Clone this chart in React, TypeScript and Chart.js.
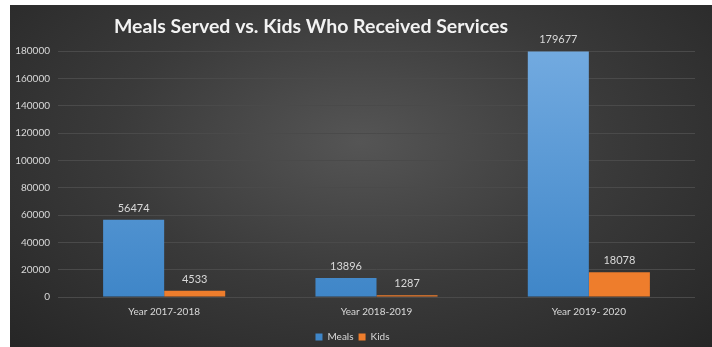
import React, { useEffect, useRef } from "react";
import { Chart, registerables } from "chart.js";

Chart.register(...registerables);

const categories = ["Year 2017-2018", "Year 2018-2019", "Year 2019- 2020"];
const mealsValues = [56474, 13896, 179677];
const kidsValues = [4533, 1287, 18078];
const titleText = "Meals Served vs. Kids Who Received Services";

const FONT = "Lato, 'Open Sans', sans-serif";
const TEXT = "#d9d9d9";

const valueLabels = {
  id: "valueLabels",
  afterDatasetsDraw(chart: any) {
    const ctx = chart.ctx;
    ctx.save();
    ctx.font = `11px ${FONT}`;
    ctx.fillStyle = TEXT;
    ctx.textAlign = "center";
    ctx.textBaseline = "bottom";
    chart.data.datasets.forEach((ds: any, i: number) => {
      const meta = chart.getDatasetMeta(i);
      meta.data.forEach((el: any, j: number) => {
        ctx.fillText(String(ds.data[j]), el.x, el.y - 6);
      });
    });
    ctx.restore();
  },
};

const customTitle = {
  id: "customTitle",
  afterDraw(chart: any) {
    const ctx = chart.ctx;
    ctx.save();
    ctx.font = `bold 19.5px ${FONT}`;
    ctx.fillStyle = "#f2f2f2";
    ctx.textAlign = "center";
    ctx.textBaseline = "alphabetic";
    ctx.fillText(titleText, 301, 28);
    ctx.restore();
  },
};

export default function App() {
  const ref = useRef<HTMLCanvasElement>(null);
  useEffect(() => {
    if (!ref.current) return;
    const chart = new Chart(ref.current, {
      type: "bar",
      data: {
        labels: categories,
        datasets: [
          {
            label: "Meals",
            data: mealsValues,
            backgroundColor: (c: any) => {
              const area = c.chart.chartArea;
              if (!area) return "#5b9bd5";
              const g = c.chart.ctx.createLinearGradient(0, area.top, 0, area.bottom);
              g.addColorStop(0, "#72aae0");
              g.addColorStop(1, "#3f86c8");
              return g;
            },
            borderWidth: 0,
            categoryPercentage: 0.575,
            barPercentage: 1,
          },
          {
            label: "Kids",
            data: kidsValues,
            backgroundColor: "#ee7d2c",
            borderWidth: 0,
            categoryPercentage: 0.575,
            barPercentage: 1,
          },
        ],
      },
      options: {
        animation: false,
        responsive: false,
        maintainAspectRatio: false,
        layout: { padding: { top: 46, right: 17, left: 0, bottom: -5 } },
        scales: {
          x: {
            grid: { display: false, drawTicks: false },
            border: { display: false },
            ticks: { color: TEXT, font: { family: FONT, size: 10 }, padding: 9 },
          },
          y: {
            min: 0,
            max: 180000,
            ticks: {
              stepSize: 20000,
              color: TEXT,
              font: { family: FONT, size: 10 },
              padding: 8,
              callback: (v: any) => String(v),
            },
            grid: { color: "#4a4a4a", drawTicks: false, lineWidth: 1 },
            border: { display: false },
            afterFit: (s: any) => {
              s.width = 48;
            },
          },
        },
        plugins: {
          legend: {
            position: "bottom",
            labels: {
              color: TEXT,
              font: { family: FONT, size: 10 },
              boxWidth: 7,
              boxHeight: 7,
              padding: 5,
            },
          },
          title: { display: false },
          tooltip: { enabled: false },
        },
      },
      plugins: [valueLabels, customTitle],
    });
    return () => chart.destroy();
  }, []);
  return (
    <div
      style={{
        position: "absolute",
        left: 10,
        top: 5,
        width: 702,
        height: 342,
        background: "radial-gradient(ellipse at 50% 40%, #555555 0%, #3a3a3a 50%, #262626 100%)",
      }}
    >
      <canvas ref={ref} width={702} height={342} style={{ display: "block" }} />
    </div>
  );
}
